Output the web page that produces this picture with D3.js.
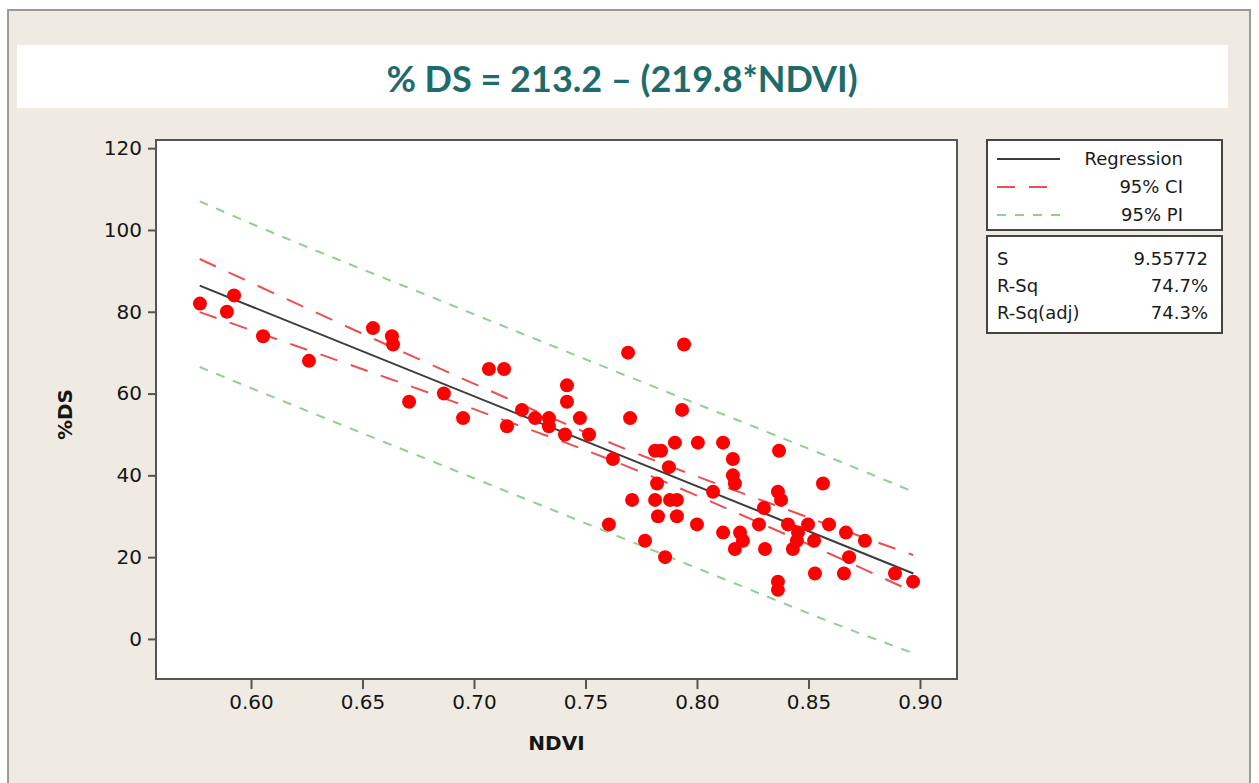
<!DOCTYPE html>
<html>
<head>
<meta charset="utf-8">
<script src="https://cdn.jsdelivr.net/npm/d3@7/dist/d3.min.js"></script>
<style>
  html, body { margin: 0; padding: 0; background: #ffffff; }
  svg { display: block; }
</style>
</head>
<body>
<svg id="chart" width="1259" height="783"></svg>
<script>
// ---------------- DATA ----------------
const titleText = "% DS = 213.2 \u2013 (219.8*NDVI)";
const xLabel = "NDVI";
const yLabel = "%DS";

const ndvi = [0.5771, 0.5892, 0.5924, 0.6054, 0.6260, 0.6547, 0.6632, 0.6637, 0.6709, 0.6865,
  0.6951, 0.7067, 0.7135, 0.7148, 0.7215, 0.7274, 0.7336, 0.7336, 0.7408, 0.7417,
  0.7417, 0.7475, 0.7516, 0.7623, 0.7605, 0.7691, 0.7700, 0.7709, 0.7767, 0.7812,
  0.7812, 0.7821, 0.7825, 0.7839, 0.7857, 0.7874, 0.7901, 0.7879, 0.7910, 0.7910,
  0.7942, 0.7933, 0.8004, 0.8000, 0.8072, 0.8117, 0.8117, 0.8161, 0.8161, 0.8170,
  0.8170, 0.8193, 0.8206, 0.8278, 0.8300, 0.8305, 0.8368, 0.8363, 0.8377, 0.8363,
  0.8363, 0.8408, 0.8430, 0.8448, 0.8453, 0.8498, 0.8525, 0.8529, 0.8565, 0.8592,
  0.8668, 0.8659, 0.8682, 0.8753, 0.8888, 0.8969];
const ds = [82, 80, 84, 74, 68, 76, 74, 72, 58, 60,
  54, 66, 66, 52, 56, 54, 54, 52, 50, 62,
  58, 54, 50, 44, 28, 70, 54, 34, 24, 46,
  34, 38, 30, 46, 20, 42, 48, 34, 34, 30,
  72, 56, 48, 28, 36, 48, 26, 44, 40, 38,
  22, 26, 24, 28, 32, 22, 46, 36, 34, 14,
  12, 28, 22, 24, 26, 28, 24, 16, 38, 28,
  26, 16, 20, 24, 16, 14];

// regression line end points
const regX = [0.577, 0.897];
const regY = [86.4, 16.0];

// confidence / prediction bands
const bandX  = [0.577, 0.62, 0.67, 0.72, 0.77, 0.82, 0.86, 0.897];
const ciUp   = [92.9, 82.1, 69.7, 57.6, 46.0, 35.7, 27.7, 20.5];
const ciLow  = [79.9, 71.7, 62.1, 52.2, 41.9, 30.3, 20.7, 11.5];
const piUp   = [107.0, 97.0, 86.0, 75.0, 64.0, 53.1, 44.3, 36.0];
const piLow  = [66.5, 56.9, 45.9, 34.9, 23.9, 12.9, 4.1, -3.5];

const xTicks = [0.60, 0.65, 0.70, 0.75, 0.80, 0.85, 0.90];
const yTicks = [0, 20, 40, 60, 80, 100, 120];

const legendNames = ["Regression", "95% CI", "95% PI"];
const statNames = ["S", "R-Sq", "R-Sq(adj)"];
const statValues = ["9.55772", "74.7%", "74.3%"];

// ---------------- DRAW ----------------
const svg = d3.select("#chart");
const W = 1259, H = 783;
const P = { left: 156, right: 957, top: 140, bottom: 679 };

// background & outer frame
svg.append("rect").attr("x", 0).attr("y", 0).attr("width", W).attr("height", H).attr("fill", "#ffffff");
svg.append("rect").attr("x", 8).attr("y", 10).attr("width", 1242).attr("height", 780)
  .attr("fill", "#efebe2").attr("stroke", "#9a9a9a").attr("stroke-width", 2);

// title band
svg.append("rect").attr("x", 17).attr("y", 45).attr("width", 1211).attr("height", 63).attr("fill", "#ffffff");
svg.append("text").attr("x", 622).attr("y", 92).attr("text-anchor", "middle")
  .attr("font-family", "Lato, 'Open Sans', sans-serif").attr("font-weight", "bold")
  .attr("font-size", 36).attr("fill", "#1d6b6b").text(titleText);

const x = d3.scaleLinear().domain([0.5574, 0.9166]).range([P.left, P.right]);
const y = d3.scaleLinear().domain([-9.8, 122]).range([P.bottom, P.top]);

// plot area
svg.append("rect").attr("x", P.left).attr("y", P.top)
  .attr("width", P.right - P.left).attr("height", P.bottom - P.top)
  .attr("fill", "#ffffff");

const font = "'DejaVu Sans', Verdana, sans-serif";

// axes
const xAxis = svg.append("g").attr("transform", `translate(0,${P.bottom})`)
  .call(d3.axisBottom(x).tickValues(xTicks).tickFormat(d3.format(".2f")).tickSize(10).tickSizeOuter(0).tickPadding(6));
const yAxis = svg.append("g").attr("transform", `translate(${P.left},0)`)
  .call(d3.axisLeft(y).tickValues(yTicks).tickFormat(d3.format("d")).tickSize(8).tickSizeOuter(0).tickPadding(6));
[xAxis, yAxis].forEach(g => {
  g.select(".domain").remove();
  g.selectAll(".tick line").attr("stroke", "#555").attr("stroke-width", 2);
  g.selectAll(".tick text").attr("font-family", font).attr("font-size", 20).attr("fill", "#151515");
});

// axis titles
svg.append("text").attr("x", (P.left + P.right) / 2).attr("y", 750).attr("text-anchor", "middle")
  .attr("font-family", font).attr("font-weight", "bold").attr("font-size", 20).attr("fill", "#151515").text(xLabel);
svg.append("text").attr("transform", `translate(72,${(P.top + P.bottom) / 2 + 5}) rotate(-90)`)
  .attr("text-anchor", "middle").attr("font-family", font).attr("font-weight", "bold")
  .attr("font-size", 20).attr("fill", "#151515").text(yLabel);

// bands
const bandLine = d3.line().curve(d3.curveNatural);
function band(vals, color, dash) {
  svg.append("path")
    .attr("d", bandLine(bandX.map((v, i) => [x(v), y(vals[i])])))
    .attr("fill", "none").attr("stroke", color).attr("stroke-width", 2)
    .attr("stroke-dasharray", dash);
}
band(piUp, "#8fd08f", "9,9");
band(piLow, "#8fd08f", "9,9");
band(ciUp, "#ec4f4f", "18,14");
band(ciLow, "#ec4f4f", "18,14");

// regression
svg.append("path")
  .attr("d", d3.line()(regX.map((v, i) => [x(v), y(regY[i])])))
  .attr("fill", "none").attr("stroke", "#3c3c3c").attr("stroke-width", 2);

// points
svg.append("g").selectAll("circle").data(ndvi.map((v, i) => [v, ds[i]])).join("circle")
  .attr("cx", d => x(d[0])).attr("cy", d => y(d[1])).attr("r", 7)
  .attr("fill", "#ff0000");

// frame
svg.append("rect").attr("x", P.left).attr("y", P.top)
  .attr("width", P.right - P.left).attr("height", P.bottom - P.top)
  .attr("fill", "none").attr("stroke", "#555").attr("stroke-width", 2);

// legend box
const lg = svg.append("g");
lg.append("rect").attr("x", 987).attr("y", 140).attr("width", 235).attr("height", 90)
  .attr("fill", "#ffffff").attr("stroke", "#444").attr("stroke-width", 2);
const legStyles = [
  { color: "#3c3c3c", dash: null },
  { color: "#ec4f4f", dash: "18,14" },
  { color: "#8fd08f", dash: "9,9" }
];
legendNames.forEach((name, i) => {
  const yy = 159 + i * 28;
  lg.append("line").attr("x1", 997).attr("x2", 1060).attr("y1", yy).attr("y2", yy)
    .attr("stroke", legStyles[i].color).attr("stroke-width", 2)
    .attr("stroke-dasharray", legStyles[i].dash);
  lg.append("text").attr("x", 1183).attr("y", yy + 6).attr("text-anchor", "end")
    .attr("font-family", font).attr("font-size", 18).attr("fill", "#1a1a1a").text(name);
});

// stats box
const sg = svg.append("g");
sg.append("rect").attr("x", 987).attr("y", 236).attr("width", 235).attr("height", 97)
  .attr("fill", "#ffffff").attr("stroke", "#444").attr("stroke-width", 2);
statNames.forEach((name, i) => {
  const yy = 265 + i * 27;
  sg.append("text").attr("x", 997).attr("y", yy).attr("font-family", font)
    .attr("font-size", 18).attr("fill", "#1a1a1a").text(name);
  sg.append("text").attr("x", 1208).attr("y", yy).attr("text-anchor", "end").attr("font-family", font)
    .attr("font-size", 18).attr("fill", "#1a1a1a").text(statValues[i]);
});
</script>
</body>
</html>
